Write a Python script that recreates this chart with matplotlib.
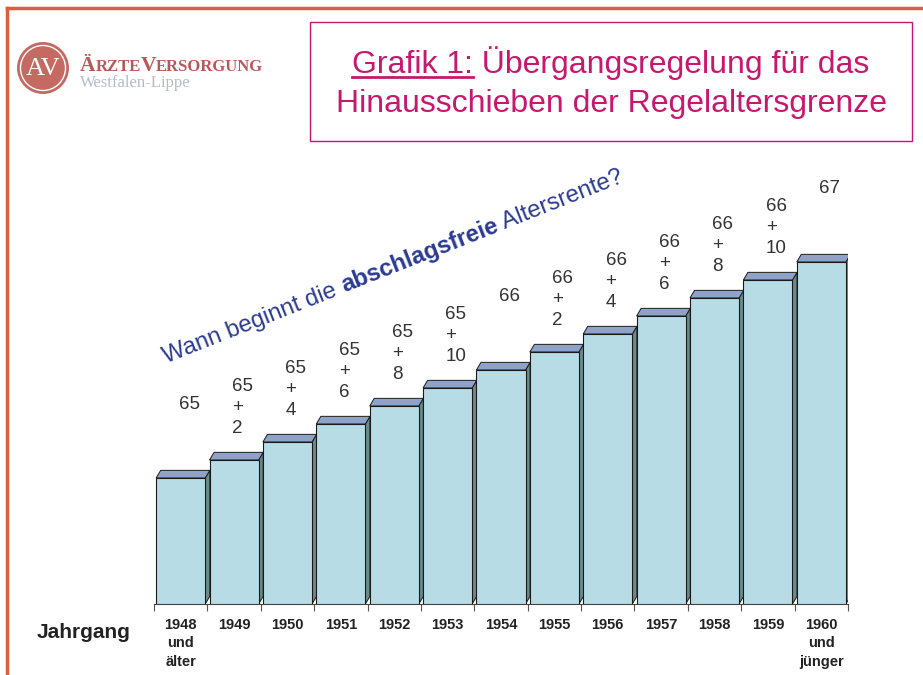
import numpy as np
import matplotlib.pyplot as plt
from matplotlib.patches import Polygon, Rectangle, Circle
from matplotlib.lines import Line2D

plt.rcParams['font.family'] = ['Liberation Sans', 'DejaVu Sans']

# Daten: Jahrgang und Regelaltersgrenze (Jahre + Monate)
jahrgang = ['1948\nund\nälter', '1949', '1950', '1951', '1952', '1953', '1954',
            '1955', '1956', '1957', '1958', '1959', '1960\nund\njünger']
jahre = [65, 65, 65, 65, 65, 65, 66, 66, 66, 66, 66, 66, 67]
monate = [0, 2, 4, 6, 8, 10, 0, 2, 4, 6, 8, 10, 0]

W, H = 923, 675
fig = plt.figure(figsize=(W / 100, H / 100), dpi=100)

def fx(px):
    return px / W

def fy(py):
    return 1 - py / H

# Diagramm
ax = fig.add_axes([fx(154), fy(604), 694 / W, 454 / H])
alter = np.array(jahre) * 12 + np.array(monate)   # in Monaten
basis = 65 * 12 - 14
x = np.arange(len(alter))
breite = 0.92
dx, dy = 0.085, 0.85   # Tiefe der 3D-Saeulen

for xi, a in zip(x, alter):
    l, r = xi - breite / 2, xi + breite / 2
    ax.add_patch(Polygon([(r, basis), (r + dx, basis + dy), (r + dx, a + dy), (r, a)],
                         closed=True, facecolor='#6a8a8c', edgecolor='#1a1a1a', lw=0.7, zorder=2))
    ax.add_patch(Polygon([(l, a), (r, a), (r + dx, a + dy), (l + dx, a + dy)],
                         closed=True, facecolor='#8fa3c8', edgecolor='#1a1a1a', lw=0.7, zorder=2))
ax.bar(x, alter - basis, bottom=basis, width=breite, color='#b8dce6',
       edgecolor='#1a1a1a', linewidth=0.8, zorder=3)

for xi, a, j, m in zip(x, alter, jahre, monate):
    txt = f'{j}' if m == 0 else f'{j}\n+\n{m}'
    ax.annotate(txt, (xi, a), xytext=(6, 59), textcoords='offset points',
                ha='center', va='top', multialignment='left', fontsize=13.5,
                linespacing=1.3, color='#333333')

ax.set_xlim(-0.5, len(x) - 0.5)
ax.set_ylim(basis, basis + 454 / 9)
for s in ['top', 'right', 'left']:
    ax.spines[s].set_visible(False)
ax.spines['bottom'].set_color('#444444')
ax.set_yticks([])
ax.set_xticks(np.arange(-0.5, len(x), 1))
ax.set_xticklabels([])
ax.tick_params(axis='x', which='major', length=5, color='#555555', direction='out')
ax.set_xticks(x, jahrgang, minor=True)
ax.tick_params(axis='x', which='minor', length=0, pad=10)
for t in ax.get_xticklabels(minor=True):
    t.set_fontsize(10.5)
    t.set_fontweight('bold')
    t.set_color('#222222')
    t.set_linespacing(1.4)

fig.text(fx(37), fy(632), 'Jahrgang', fontsize=15, weight='bold', va='center', color='#222222')

# Rahmen
fig.add_artist(Line2D([fx(7), 1], [fy(8), fy(8)], color='#d9623c', lw=2.5))
fig.add_artist(Line2D([fx(7), fx(7)], [fy(8), 0], color='#d9623c', lw=2.5))

# Titelbox
fig.add_artist(Rectangle((fx(310), fy(141)), 602 / W, 119 / H, transform=fig.transFigure,
                         fill=False, edgecolor='#c8186e', lw=1))
magenta = '#c8186e'
zeile1 = 'Grafik 1: Übergangsregelung für das'
t1 = fig.text(fx(611), fy(73), zeile1, ha='center', va='baseline', fontsize=23, color=magenta)
fig.text(fx(611), fy(112), 'Hinausschieben der Regelaltersgrenze', ha='center',
         va='baseline', fontsize=23, color=magenta)

renderer = fig.canvas.get_renderer()

def breite_px(s, **kw):
    tmp = fig.text(0, 0, s, **kw)
    w = tmp.get_window_extent(renderer).width
    tmp.remove()
    return w

bb = t1.get_window_extent(renderer)
wg = breite_px('Grafik 1:', fontsize=23)
fig.add_artist(Line2D([bb.x0 / W, (bb.x0 + wg) / W], [fy(77), fy(77)], color=magenta, lw=2))

# Schraege Frage
blau = '#2b3a93'
winkel = 21.5
teile = [('Wann beginnt die ', 'normal'), ('abschlagsfreie', 'bold'), (' Altersrente?', 'normal')]
px0, py0 = 166, H - 363
c, s_ = np.cos(np.radians(winkel)), np.sin(np.radians(winkel))
for teil, gew in teile:
    fig.text(px0 / W, py0 / H, teil, fontsize=17.2, weight=gew, color=blau, rotation=winkel,
             rotation_mode='anchor', ha='left', va='baseline')
    w = breite_px(teil, fontsize=17.2, weight=gew)
    px0 += w * c
    py0 += w * s_

# Logo
fig.add_artist(Circle((0.43, (H - 68) / 100), 0.26, transform=fig.dpi_scale_trans,
                      facecolor='#c46a62', edgecolor='none'))
fig.add_artist(Circle((0.43, (H - 68) / 100), 0.225, transform=fig.dpi_scale_trans,
                      facecolor='none', edgecolor='white', lw=1))
fig.text(fx(43), fy(69), 'AV', ha='center', va='center', fontsize=19,
         family='Liberation Serif', color='white')

rot = '#b9585a'
lx = 80
for teil, gr in [('Ä', 15.5), ('RZTE', 12), ('V', 15.5), ('ERSORGUNG', 12)]:
    fig.text(fx(lx), fy(71), teil, fontsize=gr, family='Liberation Serif', color=rot,
             va='baseline', ha='left', weight='bold')
    lx += breite_px(teil, fontsize=gr, family='Liberation Serif', weight='bold')
fig.text(fx(80), fy(87), 'Westfalen-Lippe', fontsize=12, family='Liberation Serif',
         color='#b4bccb', va='baseline', ha='left')

fig.savefig('out.png', dpi=100)
